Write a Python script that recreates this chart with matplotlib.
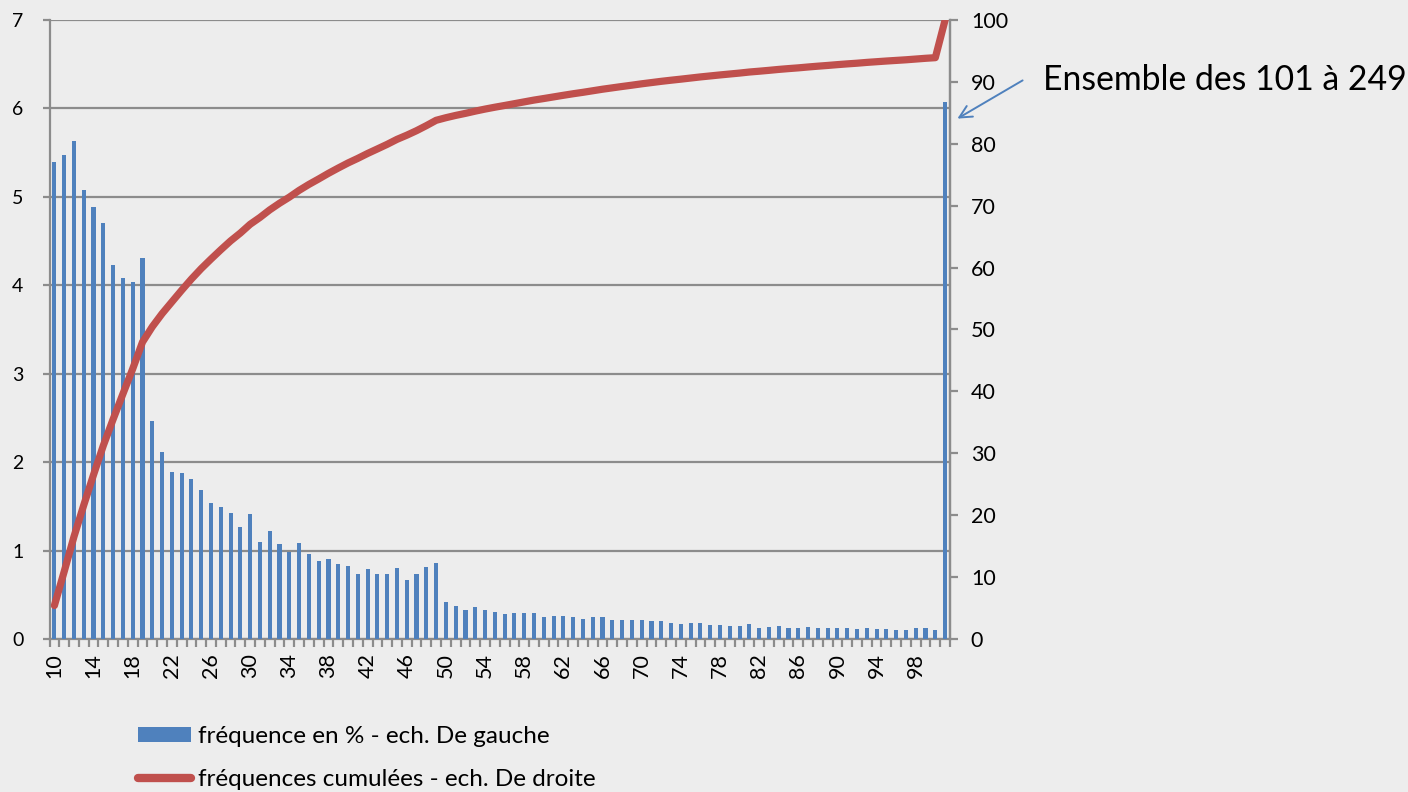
import numpy as np
import matplotlib.pyplot as plt
from matplotlib.patches import Patch
from matplotlib.lines import Line2D

plt.rcParams['font.family'] = ['Lato', 'DejaVu Sans']

# categories 10..100, last one is the group "101 à 249"
categories = [str(v) for v in range(10, 101)] + ["101 à 249"]

# frequency in % (left scale)
freq = [5.39, 5.47, 5.63, 5.08, 4.89, 4.71, 4.23, 4.08, 4.04, 4.31,
        2.47, 2.11, 1.89, 1.88, 1.81, 1.68, 1.54, 1.49, 1.43, 1.27,
        1.41, 1.10, 1.22, 1.07, 0.98, 1.09, 0.96, 0.88, 0.91, 0.85,
        0.82, 0.74, 0.79, 0.73, 0.74, 0.80, 0.67, 0.73, 0.81, 0.86,
        0.42, 0.37, 0.33, 0.36, 0.33, 0.30, 0.28, 0.29, 0.29, 0.29,
        0.25, 0.26, 0.26, 0.25, 0.23, 0.25, 0.25, 0.22, 0.22, 0.21,
        0.22, 0.20, 0.20, 0.18, 0.17, 0.18, 0.18, 0.16, 0.16, 0.15,
        0.15, 0.17, 0.13, 0.14, 0.15, 0.13, 0.12, 0.14, 0.13, 0.12,
        0.13, 0.12, 0.11, 0.13, 0.11, 0.11, 0.10, 0.10, 0.12, 0.12,
        0.10, 6.07]

# cumulative frequencies (right scale)
cumul = np.cumsum(freq)
cumul = cumul / cumul[-1] * 100

blue = "#4f81bd"
red = "#c0504d"
grey = "#8c8c8c"
bg = "#ededed"

fig = plt.figure(figsize=(14.08, 7.92), dpi=100, facecolor=bg)
ax = fig.add_axes([49.5 / 1408, 1 - 639 / 792, (950 - 49.5) / 1408, (639 - 20) / 792])
ax.set_facecolor(bg)

x = np.arange(len(freq))
ax.bar(x, freq, width=0.42, color=blue, zorder=3)
ax.set_xlim(-0.5, len(freq) - 0.5)
ax.set_ylim(0, 7)
ax.set_yticks(range(0, 8))
ax.yaxis.grid(True, color=grey, linewidth=1.6, zorder=0)
ax.set_axisbelow(True)

# labels every 4 categories, tick marks on category boundaries
ax.set_xticks(x[::4])
ax.set_xticklabels(categories[::4], rotation=90, fontsize=15.5)
ax.tick_params(axis='x', length=0, pad=10)
ax.set_xticks(np.arange(-0.5, len(freq)), minor=True)
ax.tick_params(axis='x', which='minor', length=6, width=1.6, color=grey)
ax.tick_params(axis='y', length=5, width=1.6, color=grey, labelsize=14, pad=22)
for lab in ax.get_yticklabels():
    lab.set_horizontalalignment('left')

ax.spines['top'].set_visible(False)
for side in ['left', 'right', 'bottom']:
    ax.spines[side].set_color(grey)
    ax.spines[side].set_linewidth(1.6)

ax2 = ax.twinx()
ax2.plot(x, cumul, color=red, linewidth=5.2, solid_capstyle='round', zorder=4)
ax2.set_ylim(0, 100)
ax2.set_yticks(range(0, 101, 10))
ax2.tick_params(axis='y', length=6, width=1.6, color=grey, labelsize=15.5, pad=9)
ax2.spines['top'].set_visible(False)
ax2.spines['left'].set_visible(False)
ax2.spines['bottom'].set_visible(False)
ax2.spines['right'].set_color(grey)
ax2.spines['right'].set_linewidth(1.6)

# annotation for the grouped last bar
fig.text(1043 / 1408, 1 - 80 / 792, "Ensemble des 101 à 249", fontsize=24.3,
         ha='left', va='center', color='black')
ax.annotate("", xy=(955 / 1408, 1 - 120 / 792), xycoords='figure fraction',
            xytext=(1025 / 1408, 1 - 79 / 792), textcoords='figure fraction',
            arrowprops=dict(arrowstyle='->', color=blue, lw=1.4,
                            mutation_scale=22))

handles = [Patch(facecolor=blue, edgecolor='none'),
           Line2D([0], [0], color=red, linewidth=6, solid_capstyle='round')]
labels = ["fréquence en % - ech. De gauche",
          "fréquences cumulées - ech. De droite"]
fig.legend(handles, labels, loc='upper left',
           bbox_to_anchor=(138 / 1408, 1 - 726 / 792), frameon=False,
           fontsize=17.5, handlelength=2.2, handleheight=0.62, handletextpad=0.25,
           labelspacing=0.9, borderpad=0, borderaxespad=0)

fig.savefig("out.png", dpi=100, facecolor=bg)
